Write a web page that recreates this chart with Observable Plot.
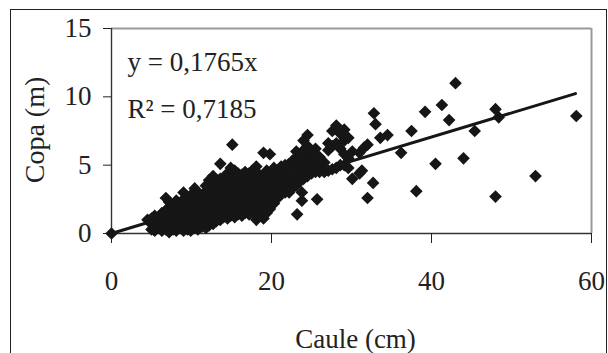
<!DOCTYPE html>
<html><head><meta charset="utf-8">
<script src="https://cdn.jsdelivr.net/npm/d3@7"></script>
<script src="https://cdn.jsdelivr.net/npm/@observablehq/plot@0.6"></script>
<style>
html,body{margin:0;padding:0;background:#fff;}
#wrap{position:relative;width:608px;height:353px;overflow:hidden;}
#frame{position:absolute;left:10px;top:9px;width:597px;height:420px;border:1.4px solid #222;box-sizing:border-box;pointer-events:none;}
#wrap svg{position:absolute;left:0;top:0;}
</style></head><body>
<div id="wrap"><div id="frame"></div></div>
<script>
// Caule (cm) columns of the dense cloud and the Copa (m) values read in each column
const cauleCols = [5.0, 5.4, 5.9, 6.3, 6.8, 7.2, 7.7, 8.1, 8.6, 9.0, 9.5, 9.9, 10.4, 10.8, 11.3, 11.8, 12.2, 12.7, 13.1, 13.6,
  14.0, 14.5, 14.9, 15.4, 15.8, 16.3, 16.7, 17.2, 17.6, 18.1, 18.5, 19.0, 19.4, 19.8, 20.3, 20.8, 21.2, 21.7, 22.2, 22.6,
  23.1, 23.5, 24.0, 24.5, 25.0, 25.5, 26.0, 26.6, 27.1, 27.6, 28.1, 28.6, 29.1, 29.6, 30.1, 31.0, 31.6];
const copaCols = [
  [0.3, 0.7, 1.1], [0.2, 0.5, 0.9, 1.3], [0.4, 0.8, 1.2], [0.2, 0.6, 1.0, 1.5],
  [0.3, 0.8, 1.2, 1.7, 2.6], [0.1, 0.5, 1.0, 1.4, 1.9, 2.3], [0.3, 0.7, 1.2, 1.6, 2.1],
  [0.2, 0.6, 1.0, 1.5, 1.9, 2.4], [0.4, 0.8, 1.3, 1.7, 2.2], [0.2, 0.6, 1.1, 1.5, 2.0, 2.5, 3.0],
  [0.3, 0.8, 1.2, 1.7, 2.1, 2.6], [0.2, 0.6, 1.0, 1.5, 1.9, 2.4, 2.8], [0.4, 0.8, 1.3, 1.8, 2.2, 2.7, 3.3],
  [0.3, 0.7, 1.1, 1.6, 2.0, 2.5, 3.0], [0.5, 0.9, 1.4, 1.9, 2.3, 2.8], [0.4, 0.8, 1.2, 1.7, 2.2, 2.6, 3.1, 3.5],
  [0.6, 1.0, 1.5, 2.0, 2.4, 2.9, 3.4, 3.9], [0.7, 1.2, 1.7, 2.1, 2.6, 3.1, 3.6, 4.2], [0.9, 1.4, 1.9, 2.4, 2.8, 3.3, 3.8],
  [1.0, 1.5, 2.0, 2.5, 3.0, 3.5, 4.0, 5.1], [1.2, 1.6, 2.1, 2.6, 3.1, 3.6, 4.1], [1.1, 1.5, 2.0, 2.4, 2.9, 3.4, 3.9, 4.4],
  [1.3, 1.8, 2.3, 2.8, 3.3, 3.8, 4.3, 4.8], [1.2, 1.7, 2.2, 2.7, 3.2, 3.7, 4.2, 4.6], [1.4, 1.9, 2.4, 2.9, 3.4, 3.9, 4.4],
  [1.3, 1.8, 2.3, 2.8, 3.3, 3.8, 4.3], [1.5, 2.0, 2.5, 3.0, 3.5, 4.0, 4.5], [1.4, 1.9, 2.4, 2.9, 3.4, 3.9, 4.4],
  [1.6, 2.1, 2.6, 3.1, 3.6, 4.1, 4.6], [1.0, 1.5, 2.0, 2.5, 3.0, 3.5, 4.0, 4.9], [1.3, 1.8, 2.3, 2.8, 3.3, 3.8, 4.3],
  [1.1, 1.6, 2.1, 2.7, 3.2, 3.7, 4.2, 5.9], [1.5, 2.0, 2.5, 3.0, 3.5, 4.0, 4.6], [1.8, 2.3, 2.9, 3.4, 3.9, 4.4, 5.8],
  [2.2, 2.7, 3.2, 3.7, 4.2, 4.8], [2.6, 3.1, 3.6, 4.1, 4.6], [2.9, 3.4, 3.9, 4.4, 4.9], [3.0, 3.5, 4.0, 4.5, 5.0],
  [3.0, 3.5, 4.1, 4.6, 5.1], [3.3, 3.8, 4.3, 4.8, 5.3], [3.5, 4.0, 4.5, 5.0, 5.6, 6.0], [3.8, 4.3, 4.8, 5.3, 5.8],
  [4.0, 4.5, 5.0, 5.5, 6.1, 6.8], [4.2, 4.7, 5.2, 5.8, 6.4, 7.2], [4.4, 4.9, 5.5, 6.0], [4.5, 5.1, 5.7, 6.2],
  [4.5, 5.0, 5.6], [4.5, 5.2], [4.6, 6.1, 6.6], [4.7, 6.4, 7.5], [4.8, 6.6, 7.9], [5.0, 6.2, 7.3],
  [5.0, 5.8, 6.8, 7.6], [4.8, 5.5, 7.0], [4.0, 6.0], [4.4, 5.9], [6.3]
];
// isolated points
const cauleSolo = [0, 4.5, 15.1, 23.2, 23.8, 23.8, 25.7, 21.1, 32.0, 32.7, 31.3, 32.0, 33.6, 34.5, 32.8, 33.0, 36.2, 37.5,
  38.1, 39.2, 40.5, 41.3, 42.2, 43.0, 44.0, 45.4, 48.0, 48.4, 48.0, 53.0, 58.1];
const copaSolo = [0, 1.0, 6.5, 1.4, 2.4, 3.0, 2.5, 3.3, 2.6, 3.7, 4.6, 6.5, 7.0, 7.2, 8.8, 8.0, 5.9, 7.5,
  3.1, 8.9, 5.1, 9.4, 8.3, 11.0, 5.5, 7.5, 9.1, 8.5, 2.7, 4.2, 8.6];
// fitted line y = 0,1765x over the measured range
const slope = 0.1765;
const fitRange = [0, 58];
const xTicks = [0, 20, 40, 60];
const yTicks = [0, 5, 10, 15];
const eq1 = "y = 0,1765x";
const eq2 = "R² = 0,7185";

const data = [];
cauleCols.forEach((c, i) => copaCols[i].forEach(v => data.push({caule: c, copa: v})));
cauleSolo.forEach((c, i) => data.push({caule: c, copa: copaSolo[i]}));
const fit = fitRange.map(x => ({x, y: slope * x}));

const ink = "#161616";
const chart = Plot.plot({
  width: 608, height: 353,
  marginLeft: 111, marginRight: 17, marginTop: 28, marginBottom: 120,
  style: {fontFamily: "'Liberation Serif','Times New Roman',serif", fontSize: "27px", color: "#222", background: "transparent", overflow: "visible"},
  x: {domain: [0, 60]},
  y: {domain: [0, 15]},
  marks: [
    Plot.ruleY([15], {stroke: "#9a9a9a", strokeWidth: 2}),
    Plot.ruleX([60], {stroke: "#9a9a9a", strokeWidth: 2}),
    Plot.ruleX([0], {stroke: "#333", strokeWidth: 1.4}),
    Plot.ruleY([0], {stroke: "#333", strokeWidth: 1.4}),
    Plot.axisX({ticks: xTicks, tickSize: 10, tickPadding: 27, label: null, fontSize: 27}),
    Plot.axisY({ticks: yTicks, tickSize: 8, tickPadding: 12, label: null, fontSize: 27}),
    Plot.dot(data, {x: "caule", y: "copa", symbol: "diamond2", r: 5.7, fill: ink, stroke: "none"}),
    Plot.line(fit, {x: "x", y: "y", stroke: ink, strokeWidth: 3}),
    Plot.text([eq1], {text: d => d, frameAnchor: "top-left", dx: 16, dy: 42, lineAnchor: "bottom", textAnchor: "start", fontSize: 27, fill: "#222"}),
    Plot.text([eq2], {text: d => d, frameAnchor: "top-left", dx: 16, dy: 89, lineAnchor: "bottom", textAnchor: "start", fontSize: 27, fill: "#222"}),
    Plot.text(["Copa (m)"], {text: d => d, frameAnchor: "left", rotate: -90, dx: -68, dy: -1, lineAnchor: "bottom", textAnchor: "middle", fontSize: 28, fill: "#222"}),
    Plot.text(["Caule (cm)"], {text: d => d, frameAnchor: "bottom", dx: 4, dy: 114, lineAnchor: "bottom", textAnchor: "middle", fontSize: 27, fill: "#222"})
  ]
});
document.getElementById("wrap").appendChild(chart);
</script>
</body></html>
